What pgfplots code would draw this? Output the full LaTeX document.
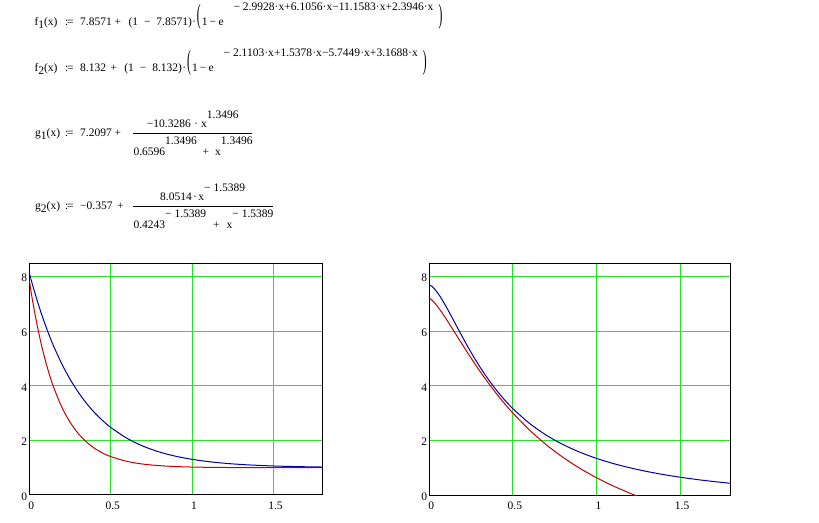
\documentclass[border=0pt]{standalone}
\usepackage{fontspec}
\setmainfont{Liberation Serif}
\usepackage{graphicx}
\usepackage{pgfplots}
\pgfplotsset{compat=1.18}
\definecolor{mgreen}{RGB}{40,225,40}
\definecolor{mred}{RGB}{200,0,0}
\definecolor{mblue}{RGB}{0,0,170}
\newcommand\mc{\fontsize{11.5}{13}\selectfont}
\newcommand\BP[1]{\raisebox{2.3pt}{\scalebox{1}[2.4]{#1}}}
\newcommand\sub[1]{\raisebox{-2.5pt}{#1}}
\newcommand\as{:\kern-1.2pt=}
\pgfplotsset{mcstyle/.style={
  anchor=south west, scale only axis, height=232pt,
  xmin=0, xmax=1.8, ymin=0, ymax=8.5,
  xtick={0,0.5,1,1.5}, ytick={0,2,4,6,8},
  grid=major, major grid style={mgreen, line width=1pt},
  major tick length=0pt,
  axis line style={black, line width=1pt},
  tick label style={font=\mc},
  /pgf/number format/assume math mode=true,
  xticklabel style={anchor=north, inner sep=0pt, yshift=-6.5pt, xshift=2pt},
  yticklabel style={anchor=east, inner sep=0pt, xshift=-2pt, yshift=-1.5pt},
  every axis plot/.append style={line width=1pt, no marks, smooth},
  clip=true}}
\begin{document}
\begin{tikzpicture}[x=1pt,y=1pt]
\fill[white] (0,0) rectangle (819,522);
\path[use as bounding box] (0,0) rectangle (819,522);
\begin{scope}[every node/.style={inner sep=0pt, font=\mc, anchor=base west}]
% f1  (baseline 496.3, exponent 511.3)
\node at (34.3,496.3) {f\sub{1}(x)};
\node at (65,496.3) {\as};
\node at (80,496.3) {7.8571};
\node at (114.5,496.3) {+};
\node at (128.3,496.3) {(1};
\node at (143.8,496.3) {−};
\node at (156.2,496.3) {7.8571)};
\node at (192,496.3) {·};
\node at (196.7,496.3) {\BP{(}};
\node at (201.7,496.3) {1};
\node at (209.5,496.3) {−};
\node at (218.3,496.3) {e};
\node at (233.3,511.3) {\makebox[200pt][s]{−\hspace{3pt}2.9928\hfil·\hfil x\hfil+\hfil 6.1056\hfil·\hfil x\hfil−\hfil 11.1583\hfil·\hfil x\hfil+\hfil 2.3946\hfil·\hfil x}};
\node at (438.3,496.3) {\BP{)}};
% f2  (baseline 450.3, exponent 465.3)
\node at (34.3,450.3) {f\sub{2}(x)};
\node at (65,450.3) {\as};
\node at (80,450.3) {8.132};
\node at (110.4,450.3) {+};
\node at (124.2,450.3) {(1};
\node at (139.7,450.3) {−};
\node at (152.1,450.3) {8.132)};
\node at (182.2,450.3) {·};
\node at (186.8,450.3) {\BP{(}};
\node at (191.8,450.3) {1};
\node at (199.6,450.3) {−};
\node at (208.4,450.3) {e};
\node at (223.4,465.3) {\makebox[194.3pt][s]{−\hspace{3pt}2.1103\hfil·\hfil x\hfil+\hfil 1.5378\hfil·\hfil x\hfil−\hfil 5.7449\hfil·\hfil x\hfil+\hfil 3.1688\hfil·\hfil x}};
\node at (422.7,450.3) {\BP{)}};
% g1  (bar at 388.5)
\node at (35,385) {g\sub{1}(x)};
\node at (65,385) {\as};
\node at (80,385) {7.2097};
\node at (114.5,385) {+};
\draw[line width=0.8pt] (132.7,388.5) -- (252.3,388.5);
\node at (146.7,394) {\makebox[91.6pt][s]{−10.3286\hfil·\hfil x\raisebox{9pt}{1.3496}}};
\node at (133.3,366) {\makebox[119pt][s]{0.6596\raisebox{11pt}{1.3496}\hfil+\hfil x\raisebox{11pt}{1.3496}}};
% g2  (bar at 315.5)
\node at (35,312) {g\sub{2}(x)};
\node at (65,312) {\as};
\node at (80,312) {−0.357};
\node at (117,312) {+};
\draw[line width=0.8pt] (132.7,315.5) -- (273.3,315.5);
\node at (160,321) {\makebox[85pt][s]{8.0514\hfil·\hfil x\raisebox{9pt}{−\hspace{3pt}1.5389}}};
\node at (133.3,293) {\makebox[140pt][s]{0.4243\raisebox{11pt}{−\hspace{3pt}1.5389}\hfil+\hfil x\raisebox{11pt}{−\hspace{3pt}1.5389}}};
\end{scope}
% left plot
\begin{axis}[mcstyle, at={(29.3pt,27pt)}, width=293pt]
\addplot[mred] coordinates {(0,7.857)(0.0125,7.389)(0.025,6.954)(0.05,6.169)(0.075,5.488)(0.1,4.897)(0.125,4.384)(0.15,3.938)(0.2,3.215)(0.25,2.670)(0.3,2.259)(0.35,1.949)(0.4,1.715)(0.45,1.539)(0.5,1.407)(0.6,1.231)(0.7,1.131)(0.8,1.075)(0.9,1.042)(1.0,1.024)(1.1,1.014)(1.2,1.008)(1.3,1.004)(1.4,1.003)(1.5,1.001)(1.6,1.001)(1.7,1.000)(1.8,1.000)};
\addplot[mblue] coordinates {(0,8.132)(0.0125,7.857)(0.025,7.592)(0.05,7.093)(0.075,6.632)(0.1,6.206)(0.125,5.812)(0.15,5.447)(0.2,4.800)(0.25,4.246)(0.3,3.773)(0.35,3.369)(0.4,3.024)(0.45,2.729)(0.5,2.477)(0.6,2.078)(0.7,1.787)(0.8,1.574)(0.9,1.419)(1.0,1.306)(1.1,1.223)(1.2,1.163)(1.3,1.119)(1.4,1.087)(1.5,1.063)(1.6,1.046)(1.7,1.034)(1.8,1.025)};
\end{axis}
% right plot
\begin{axis}[mcstyle, at={(429.3pt,27pt)}, width=301pt]
\addplot[mred] coordinates {(0,7.210)(0.0125,7.161)(0.025,7.087)(0.05,6.901)(0.075,6.688)(0.1,6.459)(0.125,6.220)(0.15,5.977)(0.2,5.490)(0.25,5.014)(0.3,4.559)(0.35,4.128)(0.4,3.725)(0.45,3.349)(0.5,3.000)(0.6,2.375)(0.7,1.838)(0.8,1.377)(0.9,0.978)(1.0,0.632)(1.1,0.331)(1.2,0.066)(1.25,-0.054)};
\addplot[mblue] coordinates {(0,7.694)(0.0125,7.659)(0.025,7.593)(0.05,7.406)(0.075,7.171)(0.1,6.909)(0.125,6.629)(0.15,6.342)(0.2,5.769)(0.25,5.222)(0.3,4.718)(0.35,4.261)(0.4,3.851)(0.45,3.487)(0.5,3.163)(0.6,2.620)(0.7,2.190)(0.8,1.847)(0.9,1.569)(1.0,1.341)(1.1,1.153)(1.2,0.996)(1.3,0.863)(1.4,0.749)(1.5,0.652)(1.6,0.567)(1.7,0.494)(1.8,0.429)};
\end{axis}
\end{tikzpicture}
\end{document}
